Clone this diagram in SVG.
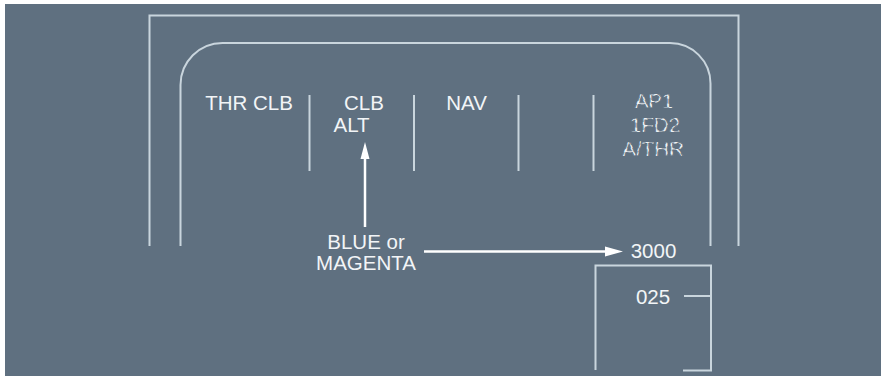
<svg xmlns="http://www.w3.org/2000/svg" width="884" height="379" viewBox="0 0 884 379">
<style>
.fr{fill:none;stroke:#c9d5dd;stroke-width:2}
.t{font-family:"Liberation Sans",Arial,sans-serif;font-size:20.5px;fill:#f2f5f7}
.ap{font-family:"Liberation Sans",Arial,sans-serif;font-size:20.5px;fill:#eef2f5;stroke:#5f7080;stroke-width:0.9;stroke-dasharray:5 3}
.ar{stroke:#ffffff;stroke-width:2.5;fill:none}
.hd{fill:#ffffff}
</style>
<rect x="0" y="0" width="884" height="379" fill="#ffffff"/>
<rect x="5" y="4" width="876" height="372" fill="#5f7080"/>
<g id="frame">
<path class="fr" d="M149.5 246 V15.5 H738.5 V246"/>
<path class="fr" d="M180.5 246 V85 A42 42 0 0 1 222.5 43 H670 A40.5 40.5 0 0 1 710.5 83.5 V246"/>
<line class="fr" x1="309.5" y1="95" x2="309.5" y2="171"/>
<line class="fr" x1="414" y1="95" x2="414" y2="171"/>
<line class="fr" x1="518.5" y1="95" x2="518.5" y2="171"/>
<line class="fr" x1="593.5" y1="95" x2="593.5" y2="171"/>
</g>
<g id="thr">
<text class="t" x="249" y="110" text-anchor="middle">THR CLB</text>
</g>
<g id="clb">
<text class="t" x="364" y="110" text-anchor="middle">CLB</text>
<text class="t" x="351.5" y="132" text-anchor="middle">ALT</text>
</g>
<g id="nav">
<text class="t" x="466.5" y="110" text-anchor="middle">NAV</text>
</g>
<g id="ap">
<text class="ap" x="654" y="108" text-anchor="middle">AP1</text>
<text class="ap" x="655" y="132" text-anchor="middle">1FD2</text>
<text class="ap" x="653" y="156" text-anchor="middle">A/THR</text>
</g>
<g id="label">
<text class="t" x="366" y="249" text-anchor="middle">BLUE or</text>
<text class="t" x="366" y="270" text-anchor="middle">MAGENTA</text>
</g>
<g id="alt3000">
<text class="t" x="653.5" y="258" text-anchor="middle">3000</text>
</g>
<g id="scale">
<path class="fr" d="M595.5 370 V265.5 H711 V370.5 H683"/>
<line class="fr" x1="684" y1="296" x2="711" y2="296"/>
<text class="t" x="653" y="304" text-anchor="middle">025</text>
</g>
<g id="connectors">
<line class="ar" x1="365" y1="227" x2="365" y2="156"/>
<polygon class="hd" points="365,142 360.5,159 369.5,159"/>
<line class="ar" x1="424" y1="251.5" x2="608" y2="251.5"/>
<polygon class="hd" points="623,251.5 605,246.5 605,256.5"/>
</g>
</svg>
